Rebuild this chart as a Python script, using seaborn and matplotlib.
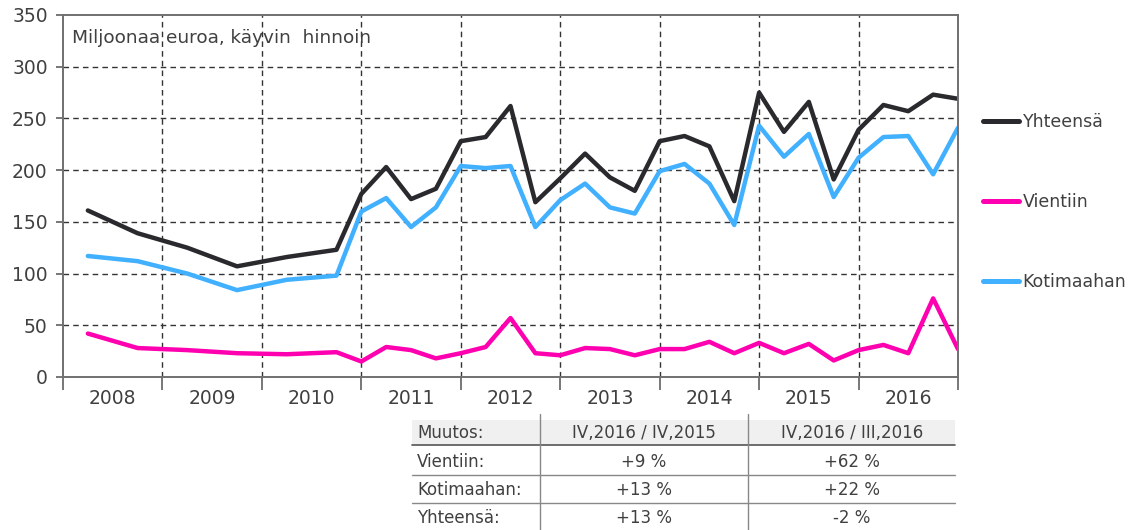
import numpy as np
import pandas as pd
import matplotlib
matplotlib.use("Agg")
import matplotlib.pyplot as plt
import seaborn as sns
from matplotlib.lines import Line2D
from matplotlib.patches import Rectangle

# ---- data (quarter index: 0 = start of 2008, 36 = end of 2016) ----
quarter_pos = [1, 3, 5, 7, 9, 11, 12, 13, 14, 15, 16, 17, 18, 19, 20, 21, 22, 23, 24,
               25, 26, 27, 28, 29, 30, 31, 32, 33, 34, 35, 36]
yhteensa = [161, 139, 125, 107, 116, 123, 177, 203, 172, 182, 228, 232, 262, 169, 192, 216,
            193, 180, 228, 233, 223, 170, 275, 237, 266, 191, 239, 263, 257, 273, 269]
vientiin = [42, 28, 26, 23, 22, 24, 15, 29, 26, 18, 23, 29, 57, 23, 21, 28,
            27, 21, 27, 27, 34, 23, 33, 23, 32, 16, 26, 31, 23, 76, 27]
kotimaahan = [117, 112, 100, 84, 94, 98, 160, 173, 145, 164, 204, 202, 204, 145, 171, 187,
              164, 158, 199, 206, 187, 147, 243, 213, 235, 174, 212, 232, 233, 196, 241]
series_names = ["Yhteensä", "Vientiin", "Kotimaahan"]
series_colors = ["#2a2a2e", "#ff00b0", "#40b0ff"]
years = ["2008", "2009", "2010", "2011", "2012", "2013", "2014", "2015", "2016"]
y_ticks = [0, 50, 100, 150, 200, 250, 300, 350]
unit_label = "Miljoonaa euroa, käyvin  hinnoin"

table_header = ["Muutos:", "IV,2016 / IV,2015", "IV,2016 / III,2016"]
table_rows = [["Vientiin:", "+9 %", "+62 %"],
              ["Kotimaahan:", "+13 %", "+22 %"],
              ["Yhteensä:", "+13 %", "-2 %"]]

df = pd.DataFrame({"q": quarter_pos * 3,
                   "value": yhteensa + vientiin + kotimaahan,
                   "series": sum([[n] * len(quarter_pos) for n in series_names], [])})

sns.set_style("white")
plt.rcParams["font.family"] = ["DejaVu Sans"]
TXT = "#404040"

W, H = 1143, 530
fig = plt.figure(figsize=(W / 100, H / 100), dpi=100)
ax = fig.add_axes([63 / W, 1 - 377 / H, (958 - 63) / W, (377 - 15) / H])

sns.lineplot(data=df, x="q", y="value", hue="series", hue_order=series_names,
             palette=series_colors, linewidth=3.2, ax=ax, legend=False)

ax.set_xlim(0, 36)
ax.set_ylim(0, 350)
ax.set_yticks(y_ticks)
ax.set_yticklabels([str(v) for v in y_ticks], fontsize=13.5, color=TXT)
ax.set_xticks(np.arange(0, 37, 4))
ax.set_xticklabels([])
ax.set_xticks(np.arange(2, 36, 4), minor=True)
ax.set_xticklabels(years, minor=True, fontsize=13.5, color=TXT)
ax.tick_params(axis="x", which="major", bottom=True, direction="out", length=9,
               width=1.2, color="#606060")
ax.tick_params(axis="x", which="minor", bottom=True, length=0, pad=9)
ax.tick_params(axis="y", left=True, direction="out", length=5, width=1.2,
               color="#606060", pad=6)
ax.set_xlabel("")
ax.set_ylabel("")

for v in y_ticks[1:-1]:
    ax.axhline(v, color="#333333", lw=1.0, ls=(0, (4, 3)), zorder=0)
for x in range(4, 36, 4):
    ax.axvline(x, color="#333333", lw=1.0, ls=(0, (4, 3)), zorder=0)
for s in ax.spines.values():
    s.set_color("#707070")
    s.set_linewidth(1.4)

ax.text(0.010, 0.962, unit_label, transform=ax.transAxes, fontsize=13.3, color=TXT,
        ha="left", va="top")

handles = [Line2D([], [], color=c, lw=3.6) for c in series_colors]
fig.legend(handles, series_names, loc="center left",
           bbox_to_anchor=(974 / W, 1 - 202 / H), frameon=False, fontsize=12.5,
           handlelength=2.1, handletextpad=0.2, labelspacing=3.55, borderpad=0,
           labelcolor=TXT)

# ---- change table below the chart ----
def fx(px):
    return px / W

def fy(py):
    return 1 - py / H

tr = fig.transFigure
fig.patches.append(Rectangle((fx(412), fy(445)), fx(955) - fx(412), fy(420) - fy(445),
                             transform=tr, facecolor="#f0f0f0", edgecolor="none", zorder=0))
row_y = [433, 462, 490, 518]
col_x = [(417, "left"), (644, "center"), (852, "center")]
all_rows = [table_header] + table_rows
for r, row in enumerate(all_rows):
    for c, txt in enumerate(row):
        x, ha = col_x[c]
        fig.text(fx(x), fy(row_y[r]), txt, ha=ha, va="center", fontsize=12.0, color=TXT)
for i, yy in enumerate([445, 475, 503]):
    fig.add_artist(Line2D([fx(412), fx(955)], [fy(yy), fy(yy)], transform=tr,
                          color="#555555" if i == 0 else "#888888", lw=1.2 if i == 0 else 1.0))
for xx in [540, 748]:
    fig.add_artist(Line2D([fx(xx), fx(xx)], [fy(414), fy(530)], transform=tr,
                          color="#888888", lw=1.0))

fig.savefig("out.png", dpi=100)
